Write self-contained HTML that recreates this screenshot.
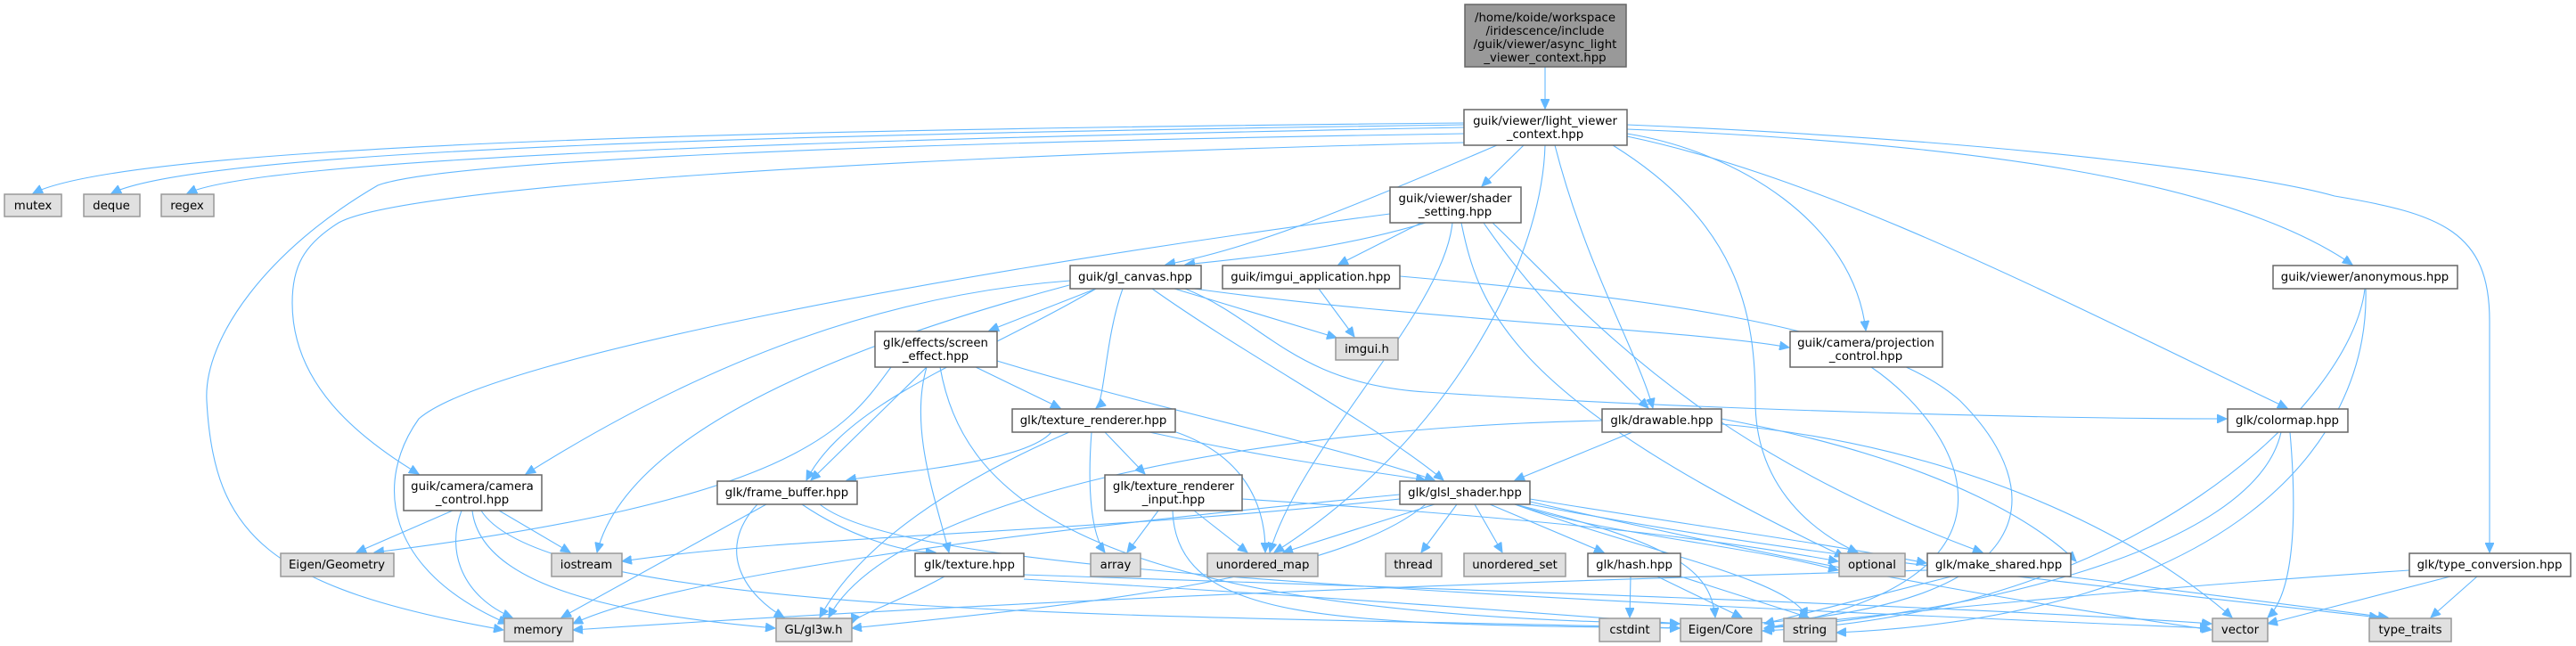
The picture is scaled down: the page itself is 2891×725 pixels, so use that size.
<!DOCTYPE html>
<html><head><meta charset="utf-8"><style>
html,body{margin:0;padding:0;background:#fff;}
svg{display:block;}
text{font-family:"DejaVu Sans","Liberation Sans",sans-serif;font-size:13.3px;fill:#000;text-anchor:middle;}
.n{fill:#fff;stroke:#666;stroke-width:1.5;}
.g{fill:#e0e0e0;stroke:#999;stroke-width:1.5;}
.r{fill:#999;stroke:#666;stroke-width:1.5;}
path.e{fill:none;stroke:#63b8ff;stroke-width:1.1;marker-end:url(#a);}
</style></head><body>
<svg width="2891" height="725" viewBox="0 0 2891 725" xmlns="http://www.w3.org/2000/svg">
<defs><marker id="a" markerUnits="userSpaceOnUse" markerWidth="12" markerHeight="10" refX="11" refY="5" orient="auto"><path d="M0,0 L11,5 L0,10 z" fill="#63b8ff" stroke="#63b8ff"/></marker></defs>
<g>
<path class="e" d="M1734,75 L1734,122"/>
<path class="e" d="M1643,138 C900,145 150,160 37,217"/>
<path class="e" d="M1643,140 C950,150 230,165 125,217"/>
<path class="e" d="M1643,143 C1000,155 300,175 210,217"/>
<path class="e" d="M1643,150 C1000,160 500,180 424,208 C300,280 228,380 232,450 C240,600 300,660 565,707"/>
<path class="e" d="M1643,160 C1000,175 450,210 380,250 C340,275 328,300 328,340 C328,430 400,490 470,532"/>
<path class="e" d="M1680,163 C1500,240 1400,280 1308,297"/>
<path class="e" d="M1710,163 L1663,209"/>
<path class="e" d="M1734,163 C1730,300 1620,500 1430,620"/>
<path class="e" d="M1745,163 C1780,300 1840,400 1855,458"/>
<path class="e" d="M1810,163 C1950,250 1970,350 1970,450 C1970,550 2040,600 2085,620"/>
<path class="e" d="M1826,150 C1950,170 2080,250 2094,371"/>
<path class="e" d="M1826,153 C2050,200 2300,330 2567,458"/>
<path class="e" d="M1826,145 C2200,160 2500,200 2640,297"/>
<path class="e" d="M1826,140 C2300,160 2550,200 2620,220 C2740,240 2794,260 2794,360 L2794,620"/>
<path class="e" d="M1600,250 C1500,280 1400,290 1330,297"/>
<path class="e" d="M1595,250 L1502,297"/>
<path class="e" d="M1560,240 C1100,300 550,400 470,470 C420,540 430,640 570,700"/>
<path class="e" d="M1630,250 C1620,350 1460,500 1425,620"/>
<path class="e" d="M1640,250 C1660,350 1700,450 2070,625"/>
<path class="e" d="M1665,250 C1720,330 1790,400 1850,458"/>
<path class="e" d="M1675,250 C1780,350 1900,500 2225,620"/>
<path class="e" d="M1201,315 C1000,330 800,400 590,532"/>
<path class="e" d="M1230,324 L1110,371"/>
<path class="e" d="M1260,324 C1240,380 1240,450 1230,458"/>
<path class="e" d="M1293,324 C1400,400 1550,480 1620,539"/>
<path class="e" d="M1318,324 L1500,379"/>
<path class="e" d="M1340,324 C1600,360 1900,370 2008,390"/>
<path class="e" d="M1330,324 C1420,360 1450,430 1600,440 C1900,460 2300,470 2499,470"/>
<path class="e" d="M1230,324 C1100,400 950,450 905,539"/>
<path class="e" d="M1200,320 C900,400 700,500 670,620"/>
<path class="e" d="M1480,324 L1520,378"/>
<path class="e" d="M1571,310 C1800,330 2100,360 2200,450 C2300,550 2300,680 1960,700"/>
<path class="e" d="M1000,412 C950,480 900,560 420,620"/>
<path class="e" d="M1040,412 L910,539"/>
<path class="e" d="M1095,412 L1190,458"/>
<path class="e" d="M1119,405 C1300,460 1500,500 1610,539"/>
<path class="e" d="M1040,412 C1020,480 1050,560 1065,620"/>
<path class="e" d="M1055,412 C1080,550 1200,690 1885,700"/>
<path class="e" d="M508,573 L400,620"/>
<path class="e" d="M560,573 L640,620"/>
<path class="e" d="M518,573 C500,620 520,670 575,693"/>
<path class="e" d="M530,573 C540,660 700,690 870,705"/>
<path class="e" d="M540,573 C620,700 1400,690 1885,705"/>
<path class="e" d="M2100,412 C2200,480 2300,650 1980,705"/>
<path class="e" d="M1180,485 C1150,520 1000,530 950,539"/>
<path class="e" d="M1240,485 L1285,532"/>
<path class="e" d="M1290,485 C1450,520 1550,530 1600,539"/>
<path class="e" d="M1225,485 C1220,550 1225,600 1240,620"/>
<path class="e" d="M1320,485 C1420,520 1420,600 1420,620"/>
<path class="e" d="M1200,485 C1050,550 960,620 920,693"/>
<path class="e" d="M860,566 L630,693"/>
<path class="e" d="M850,566 C800,620 840,670 880,693"/>
<path class="e" d="M900,566 C950,600 1010,620 1050,620"/>
<path class="e" d="M920,566 C1000,630 1400,660 2480,705"/>
<path class="e" d="M1300,573 L1265,620"/>
<path class="e" d="M1340,573 L1400,620"/>
<path class="e" d="M1394,560 C1700,580 1900,600 2063,630"/>
<path class="e" d="M1316,573 C1320,700 1500,700 1885,705"/>
<path class="e" d="M1571,560 C1200,600 900,600 698,630"/>
<path class="e" d="M1571,555 C1100,600 750,650 643,700"/>
<path class="e" d="M1600,566 C1500,650 1200,680 956,705"/>
<path class="e" d="M1610,566 L1440,620"/>
<path class="e" d="M1635,566 L1595,620"/>
<path class="e" d="M1655,566 L1686,620"/>
<path class="e" d="M1672,566 L1800,620"/>
<path class="e" d="M1700,566 C1800,600 1950,610 2063,640"/>
<path class="e" d="M1717,560 C1900,590 2050,610 2162,632"/>
<path class="e" d="M1700,566 C1880,610 1920,640 1925,693"/>
<path class="e" d="M1700,566 C1850,620 2010,650 2028,693"/>
<path class="e" d="M1717,563 C2100,650 2300,680 2482,707"/>
<path class="e" d="M1717,566 C2000,620 2200,640 2670,693"/>
<path class="e" d="M1832,485 L1700,539"/>
<path class="e" d="M1798,472 C1400,480 1000,560 930,693"/>
<path class="e" d="M1932,476 C2200,500 2400,600 2505,693"/>
<path class="e" d="M1932,470 C2200,520 2300,600 2330,630"/>
<path class="e" d="M1060,647 C1000,680 960,690 956,700"/>
<path class="e" d="M1149,650 C1500,670 1750,690 1885,700"/>
<path class="e" d="M1149,645 C1600,660 2200,680 2482,700"/>
<path class="e" d="M1830,647 L1829,693"/>
<path class="e" d="M1860,647 L1955,693"/>
<path class="e" d="M1886,647 L2030,693"/>
<path class="e" d="M2163,640 C1400,660 900,690 643,707"/>
<path class="e" d="M2190,647 L1980,700"/>
<path class="e" d="M2320,647 L2680,693"/>
<path class="e" d="M2560,485 C2530,620 2200,690 1980,705"/>
<path class="e" d="M2570,485 C2580,600 2570,670 2545,693"/>
<path class="e" d="M2704,640 C2400,660 2100,690 1980,705"/>
<path class="e" d="M2750,647 L2545,700"/>
<path class="e" d="M2780,647 L2728,693"/>
<path class="e" d="M2655,324 C2660,500 2500,690 2061,710"/>
<path class="e" d="M2654,324 C2640,450 2400,690 1978,708"/>
</g>
<g>
<rect class="r" x="1644" y="5" width="181" height="70"/>
<text x="1734" y="24">/home/koide/workspace</text><text x="1734" y="39">/iridescence/include</text><text x="1734" y="54">/guik/viewer/async_light</text><text x="1734" y="69">_viewer_context.hpp</text>
<rect class="n" x="1643" y="123" width="183" height="40"/><text x="1734" y="140">guik/viewer/light_viewer</text><text x="1734" y="155">_context.hpp</text>
<rect class="g" x="5" y="218" width="64" height="25"/><text x="37" y="235">mutex</text>
<rect class="g" x="94" y="218" width="63" height="25"/><text x="125" y="235">deque</text>
<rect class="g" x="181" y="218" width="59" height="25"/><text x="210" y="235">regex</text>
<rect class="n" x="1560" y="210" width="147" height="40"/><text x="1633" y="227">guik/viewer/shader</text><text x="1633" y="242">_setting.hpp</text>
<rect class="n" x="1201" y="298" width="147" height="26"/><text x="1274" y="315">guik/gl_canvas.hpp</text>
<rect class="n" x="1372" y="298" width="199" height="26"/><text x="1471" y="315">guik/imgui_application.hpp</text>
<rect class="n" x="2551" y="298" width="207" height="26"/><text x="2654" y="315">guik/viewer/anonymous.hpp</text>
<rect class="n" x="453" y="533" width="155" height="40"/><text x="530" y="550">guik/camera/camera</text><text x="530" y="565">_control.hpp</text>
<rect class="n" x="982" y="372" width="137" height="40"/><text x="1050" y="389">glk/effects/screen</text><text x="1050" y="404">_effect.hpp</text>
<rect class="n" x="2009" y="372" width="171" height="40"/><text x="2094" y="389">guik/camera/projection</text><text x="2094" y="404">_control.hpp</text>
<rect class="g" x="1499" y="379" width="70" height="25"/><text x="1534" y="396">imgui.h</text>
<rect class="n" x="1136" y="459" width="183" height="26"/><text x="1227" y="476">glk/texture_renderer.hpp</text>
<rect class="n" x="1798" y="459" width="134" height="26"/><text x="1865" y="476">glk/drawable.hpp</text>
<rect class="n" x="2500" y="459" width="135" height="26"/><text x="2567" y="476">glk/colormap.hpp</text>
<rect class="n" x="805" y="540" width="157" height="26"/><text x="883" y="557">glk/frame_buffer.hpp</text>
<rect class="n" x="1240" y="533" width="154" height="40"/><text x="1317" y="550">glk/texture_renderer</text><text x="1317" y="565">_input.hpp</text>
<rect class="n" x="1571" y="540" width="146" height="26"/><text x="1644" y="557">glk/glsl_shader.hpp</text>
<rect class="g" x="315" y="621" width="127" height="26"/><text x="378" y="638">Eigen/Geometry</text>
<rect class="g" x="619" y="621" width="79" height="26"/><text x="658" y="638">iostream</text>
<rect class="n" x="1027" y="621" width="122" height="26"/><text x="1088" y="638">glk/texture.hpp</text>
<rect class="g" x="1224" y="621" width="56" height="26"/><text x="1252" y="638">array</text>
<rect class="g" x="1355" y="621" width="124" height="26"/><text x="1417" y="638">unordered_map</text>
<rect class="g" x="1555" y="621" width="63" height="26"/><text x="1586" y="638">thread</text>
<rect class="g" x="1643" y="621" width="114" height="26"/><text x="1700" y="638">unordered_set</text>
<rect class="n" x="1782" y="621" width="104" height="26"/><text x="1834" y="638">glk/hash.hpp</text>
<rect class="g" x="2064" y="621" width="74" height="26"/><text x="2101" y="638">optional</text>
<rect class="n" x="2163" y="621" width="161" height="26"/><text x="2243" y="638">glk/make_shared.hpp</text>
<rect class="n" x="2704" y="621" width="181" height="26"/><text x="2794" y="638">glk/type_conversion.hpp</text>
<rect class="g" x="566" y="694" width="77" height="26"/><text x="604" y="711">memory</text>
<rect class="g" x="871" y="694" width="85" height="26"/><text x="913" y="711">GL/gl3w.h</text>
<rect class="g" x="1795" y="694" width="68" height="26"/><text x="1829" y="711">cstdint</text>
<rect class="g" x="1886" y="694" width="91" height="26"/><text x="1931" y="711">Eigen/Core</text>
<rect class="g" x="2002" y="694" width="59" height="26"/><text x="2031" y="711">string</text>
<rect class="g" x="2483" y="694" width="62" height="26"/><text x="2514" y="711">vector</text>
<rect class="g" x="2659" y="694" width="92" height="26"/><text x="2705" y="711">type_traits</text>
</g>
</svg>
</body></html>
